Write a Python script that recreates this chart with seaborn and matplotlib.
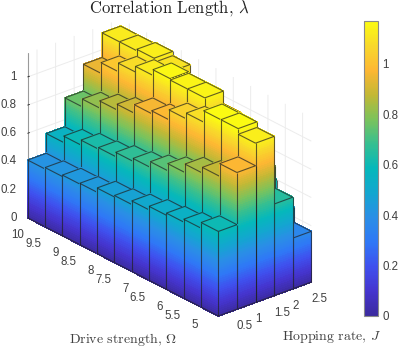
import numpy as np
import matplotlib
matplotlib.use("Agg")
import matplotlib.pyplot as plt
import seaborn as sns
from matplotlib.cm import ScalarMappable
from matplotlib.colors import Normalize
from mpl_toolkits.mplot3d import proj3d
from mpl_toolkits.mplot3d.art3d import Poly3DCollection, Line3DCollection

# hopping rate J and drive strength Omega
hop_rate = [0.5, 1, 1.5, 2, 2.5]
hop_labels = ["0.5", "1", "1.5", "2", "2.5"]
drive = [10, 9.5, 9, 8.5, 8, 7.5, 7, 6.5, 6, 5.5, 5]
drive_labels = ["10", "9.5", "9", "8.5", "8", "7.5", "7", "6.5", "6", "5.5", "5"]
z_ticks = [0, 0.2, 0.4, 0.6, 0.8, 1]
z_labels = ["0", "0.2", "0.4", "0.6", "0.8", "1"]

# correlation length, one list per J, Omega going 10 -> 5
lam_05 = [0.41, 0.42, 0.43, 0.435, 0.465, 0.475, 0.50, 0.525, 0.54, 0.56, 0.60]
lam_10 = [0.55, 0.595, 0.63, 0.64, 0.67, 0.69, 0.73, 0.78, 0.84, 0.88, 0.97]
lam_15 = [0.755, 0.81, 0.86, 0.90, 0.96, 0.98, 1.05, 1.09, 1.17, 1.17, 1.13]
lam_20 = [0.945, 1.02, 1.08, 1.12, 1.16, 1.15, 1.15, 1.06, 0.93, 0.81, 0.65]
lam_25 = [1.12, 1.12, 1.13, 1.10, 1.00, 0.90, 0.80, 0.72, 0.60, 0.47, 0.36]
lam_all = [lam_05, lam_10, lam_15, lam_20, lam_25]

# parula-like
bar_colors = ["#3b2a9e", "#4535cf", "#3f50ee", "#2f78f6", "#2a8ee6", "#13a6d0", "#05b8bb",
              "#35bf91", "#7bc35c", "#c2b835", "#fdb733", "#f8d82b", "#fbfb12"]
z_max = 1.17

sns.set_theme(style="white")
plt.rcParams["font.family"] = "Liberation Sans"
plt.rcParams["mathtext.fontset"] = "cm"
cmap = sns.blend_palette(bar_colors, n_colors=256, as_cmap=True)
norm = Normalize(0, z_max)
text_col = "#404040"

fig = plt.figure(figsize=(3.99, 3.47), dpi=100)
L = 399
ax = fig.add_axes([-35.4 / 399, -25.4 / 347, L / 399, L / 347], projection="3d", computed_zorder=False)
ax.set_proj_type("ortho")
ax.view_init(elev=25.7, azim=-130.1)
ax.set_box_aspect((121.5, 296, 183), zoom=357.8 / L)
ax.patch.set_alpha(0)


def add_bar(x, y, h, order):
    x0, x1 = x - 0.25, x + 0.25
    y0, y1 = y - 0.25, y + 0.25
    levels = np.linspace(0, h, max(int(h / 0.015), 2) + 1)
    polys = []
    cols = []
    for a, b in zip(levels[:-1], levels[1:]):
        c = cmap(norm((a + b) / 2))
        polys.append([(x0, y0, a), (x0, y1, a), (x0, y1, b), (x0, y0, b)])
        cols.append(c)
        polys.append([(x0, y0, a), (x1, y0, a), (x1, y0, b), (x0, y0, b)])
        cols.append(c)
    top = [(x0, y0, h), (x1, y0, h), (x1, y1, h), (x0, y1, h)]
    polys.append(top)
    cols.append(cmap(norm(h)))
    # no antialiasing here, otherwise the slices show up as stripes
    faces = Poly3DCollection(polys, facecolors=cols, edgecolors=cols, linewidths=0.5,
                             antialiaseds=False, zorder=order)
    ax.add_collection3d(faces)
    segs = [[top[0], top[1]], [top[1], top[2]], [top[2], top[3]], [top[3], top[0]],
            [(x0, y0, 0), (x0, y0, h)],
            [(x1, y0, 0), (x1, y0, h)],
            [(x0, y1, 0), (x0, y1, h)],
            [(x0, y1, 0), (x0, y0, 0)],
            [(x0, y0, 0), (x1, y0, 0)]]
    edges = Line3DCollection(segs, colors=[(0.13, 0.13, 0.13, 0.7)], linewidths=0.8, zorder=order + 0.5)
    ax.add_collection3d(edges)


# back to front, highest J and Omega first
order = 1
for j in range(len(hop_rate) - 1, -1, -1):
    for i in range(len(drive)):
        add_bar(hop_rate[j], drive[i], lam_all[j][i], order)
        order += 1

ax.set_xlim(0.25, 2.75)
ax.set_ylim(4.75, 10.25)
ax.set_zlim(0, z_max)
ax.set_xticks(hop_rate)
ax.set_yticks(drive)
ax.set_zticks(z_ticks)
ax.set_xticklabels([])
ax.set_yticklabels([])
ax.set_zticklabels([])

for axis in (ax.xaxis, ax.yaxis, ax.zaxis):
    axis.set_pane_color((1, 1, 1, 0))
    axis.pane.set_edgecolor("none")
    axis.line.set_color("#9a9a9a")
    axis.line.set_linewidth(0.8)
    axis._axinfo["grid"].update(color="#ececec", linewidth=0.7)
    axis._axinfo["tick"].update(inward_factor=0.0, outward_factor=0.25, color="#555555",
                                linewidth={True: 0.6, False: 0.4})
    for t in axis.get_major_ticks():
        t.label1.set_visible(False)


def tick_label(x, y, z, s, dx, dy, ha, va):
    xp, yp, _ = proj3d.proj_transform(x, y, z, ax.get_proj())
    ax.annotate(s, (xp, yp), xycoords="data", xytext=(dx, dy), textcoords="offset pixels",
                ha=ha, va=va, fontsize=8.3, color=text_col, zorder=200, annotation_clip=False)


for v, s in zip(drive, drive_labels):
    tick_label(0.25, v, 0, s, -12, -7, "right", "top")
for v, s in zip(hop_rate, hop_labels):
    tick_label(v, 4.75, 0, s, 9, -7.5, "left", "top")
for v, s in zip(z_ticks, z_labels):
    tick_label(0.25, 10.25, v, s, -11, 0, "right", "center")

fig.text(169.5 / 399, 1 - 13 / 347, r"Correlation Length, $\lambda$", family="cmr10", fontsize=12,
         ha="center", va="baseline", color="#222222")
fig.text(123 / 399, 1 - 343 / 347, r"Drive strength, $\Omega$", family="cmr10", fontsize=10,
         ha="center", va="baseline", color=text_col)
fig.text(331.5 / 399, 1 - 340 / 347, r"Hopping rate, $J$", family="cmr10", fontsize=10,
         ha="center", va="baseline", color=text_col)

cax = fig.add_axes([363.5 / 399, 1 - 316 / 347, 14.5 / 399, 295 / 347])
cb = fig.colorbar(ScalarMappable(norm=norm, cmap=cmap), cax=cax)
cb.set_ticks(z_ticks, labels=z_labels)
cb.ax.tick_params(direction="in", length=2, width=0.6, color="#404040", labelsize=8.3, labelcolor=text_col, pad=3)
cb.outline.set_edgecolor("#8a8a8a")
cb.outline.set_linewidth(0.8)

fig.savefig("out.png", dpi=100)
